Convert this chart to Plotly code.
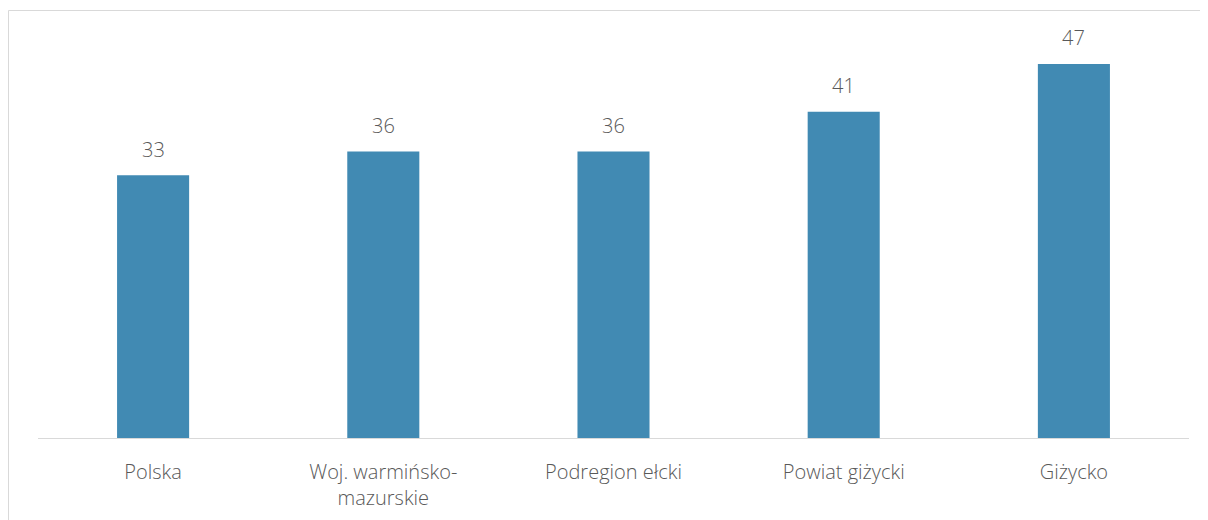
import plotly.graph_objects as go

categories = ["Polska", "Woj. warmińsko-<br>mazurskie", "Podregion ełcki", "Powiat giżycki", "Giżycko"]
values = [33, 36, 36, 41, 47]

bar_color = "#418ab3"
text_color = "#595959"
font_family = "Open Sans"

# page has an 8px body margin, so the figure is sized to fill the rest of the window
W, H = 1200, 512
ml, mr, mt, mb = 30, 19, 32, 82
pw, ph = W - ml - mr, H - mt - mb

fig = go.Figure(go.Bar(x=categories, y=values, marker_color=bar_color,
                       marker_line_width=0, hoverinfo="skip"))

for c, v in zip(categories, values):
    fig.add_annotation(x=c, y=v, text=str(v), showarrow=False, yanchor="middle",
                       yshift=26, font=dict(family=font_family, size=20, color=text_color, weight=300))

# outer chart border
def px_x(p):
    return (p - ml) / pw

def px_y(p):
    return (H - mb - p) / ph

fig.add_shape(type="rect", xref="paper", yref="paper",
              x0=px_x(0.5), x1=px_x(W + 5), y0=px_y(H + 5), y1=px_y(2.5),
              line=dict(color="#d9d9d9", width=1), fillcolor="rgba(0,0,0,0)")

fig.update_layout(
    width=W, height=H,
    margin=dict(l=ml, r=mr, t=mt, b=mb),
    plot_bgcolor="white", paper_bgcolor="white",
    bargap=0.687,
    showlegend=False,
    font=dict(family=font_family, size=20, color=text_color, weight=300),
)
fig.update_xaxes(showline=True, linecolor="#d9d9d9", linewidth=1, ticks="",
                 showgrid=False, ticklabelstandoff=16, automargin=False,
                 tickfont=dict(family=font_family, size=20, color=text_color, weight=300))
fig.update_yaxes(range=[0, 50], visible=False, showgrid=False, zeroline=False)

fig.write_html("out.html")
